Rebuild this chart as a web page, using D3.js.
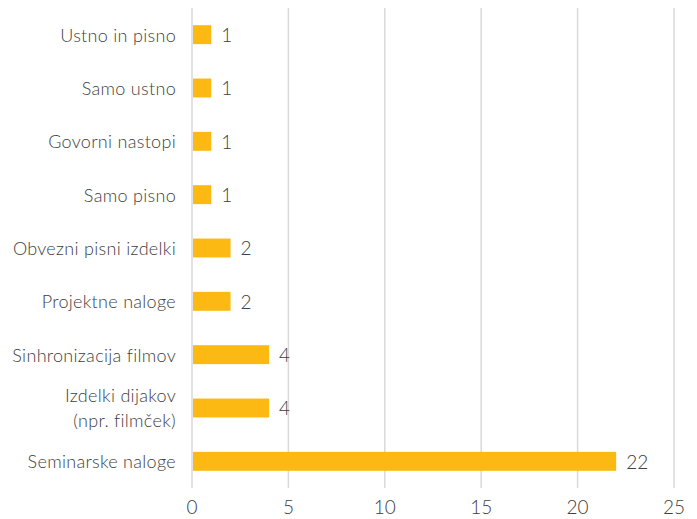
<!DOCTYPE html>
<html>
<head>
<meta charset="utf-8">
<script src="https://cdn.jsdelivr.net/npm/d3@7"></script>
<style>
  body { margin: 0; background: #fff; }
  text { font-family: "Lato", "Open Sans", sans-serif; font-weight: 300; fill: #404040; }
</style>
</head>
<body>
<div id="graph_box"></div>
<script>
// categories top to bottom, "\n" breaks the label into two lines
const categories = ["Ustno in pisno", "Samo ustno", "Govorni nastopi", "Samo pisno",
  "Obvezni pisni izdelki", "Projektne naloge", "Sinhronizacija filmov",
  "Izdelki dijakov\n(npr. filmček)", "Seminarske naloge"];
const values = [1, 1, 1, 1, 2, 2, 4, 4, 22];
const xTicks = [0, 5, 10, 15, 20, 25];

const W = 697, H = 519;
const margin = { top: 8, right: 23, bottom: 31, left: 192 };
const width = W - margin.left - margin.right,
  height = H - margin.top - margin.bottom;

const svg = d3.select("#graph_box").append("svg")
  .attr("width", W).attr("height", H)
  .append("g")
  .attr("transform", `translate(${margin.left},${margin.top})`);

const x = d3.scaleLinear().domain([0, 25]).range([0, width]);
const y = d3.scaleBand().domain(categories).range([0, height])
  .paddingInner(0.645).paddingOuter(0.3225);

// vertical grid
svg.append("g")
  .selectAll("line")
  .data(xTicks)
  .enter().append("line")
  .attr("x1", d => x(d)).attr("x2", d => x(d))
  .attr("y1", 0).attr("y2", height)
  .attr("stroke", "#d9d9d9")
  .attr("stroke-width", 1.5);

// x tick labels
svg.append("g")
  .selectAll("text")
  .data(xTicks)
  .enter().append("text")
  .attr("x", d => x(d))
  .attr("y", height + 26)
  .attr("text-anchor", "middle")
  .style("font-size", "19px")
  .text(d => d);

// bars
svg.selectAll("rect.bar")
  .data(values)
  .enter().append("rect")
  .attr("class", "bar")
  .attr("x", x(0) + 1)
  .attr("y", (d, i) => y(categories[i]))
  .attr("width", d => x(d) - x(0) - 1)
  .attr("height", y.bandwidth())
  .attr("fill", "#fdb913");

// value labels
svg.selectAll("text.val")
  .data(values)
  .enter().append("text")
  .attr("class", "val")
  .attr("x", d => x(d) + 10)
  .attr("y", (d, i) => y(categories[i]) + y.bandwidth() / 2)
  .attr("dy", "0.38em")
  .style("font-size", "19px")
  .text(d => d);

// category labels
const cat = svg.selectAll("text.cat")
  .data(categories)
  .enter().append("text")
  .attr("class", "cat")
  .attr("x", -16)
  .attr("y", d => y(d) + y.bandwidth() / 2)
  .attr("text-anchor", "end")
  .style("font-size", "18px")
  .style("letter-spacing", "0.3px");

cat.each(function (d) {
  const lines = d.split("\n");
  const t = d3.select(this);
  lines.forEach((l, k) => {
    t.append("tspan")
      .attr("x", -16)
      .attr("dy", k === 0 ? (0.38 - (lines.length - 1) * 0.7) + "em" : "1.4em")
      .text(l);
  });
});
</script>
</body>
</html>
